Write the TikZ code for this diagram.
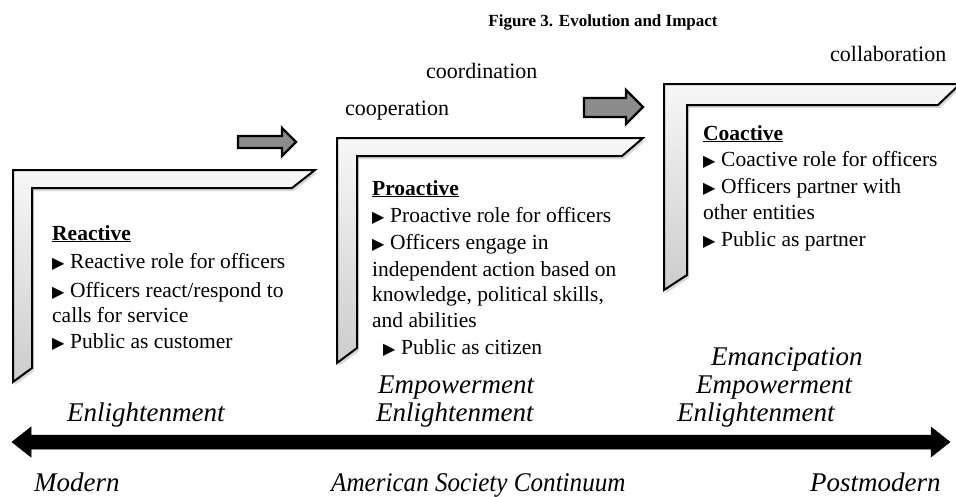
\documentclass[tikz,border=0pt]{standalone}
\usepackage{fontspec}
\usepackage{graphicx}
\setmainfont{Liberation Serif}
\newfontfamily\symf{DejaVu Sans}
\usetikzlibrary{shadows}
\definecolor{arrowgray}{RGB}{140,140,140}
\newcommand\bul{\makebox[18pt][l]{\raisebox{0pt}{\symf\fontsize{16}{16}\selectfont ▶}}}
\tikzset{
  bracket/.style={draw=black, line width=2pt, line join=miter, top color=gray!6, bottom color=gray!40,
    drop shadow={opacity=0.3, shadow xshift=2pt, shadow yshift=-3pt}},
  bigarrow/.style={draw=black, line width=2.3pt, line join=miter, fill=arrowgray},
  axisarrow/.style={fill=black, draw=black, line width=0.5pt},
  body/.style={anchor=base west, inner sep=0pt, font=\fontsize{21.5}{25}\selectfont},
  ital/.style={anchor=base west, inner sep=0pt, font=\fontsize{27}{30}\selectfont\itshape},
  upper/.style={anchor=base west, inner sep=0pt, font=\fontsize{22}{25}\selectfont},
  titlestyle/.style={anchor=base, inner sep=0pt, font=\fontsize{17}{20}\selectfont\bfseries},
}
\begin{document}
\begin{tikzpicture}[x=1pt, y=-1pt]
\path[use as bounding box, fill=white] (0,0) rectangle (956,496);

% title
\node[titlestyle] (title) at (603,26) {Figure 3. Evolution and Impact};

% brackets
\path[bracket] (13,170) -- (315,170) -- (292,188) -- (32,188) -- (32,368) -- (13,382) -- cycle;
\path[bracket] (337,138) -- (643,138) -- (622,156) -- (357,156) -- (357,348) -- (337,363) -- cycle;
\path[bracket] (664,84) -- (960,84) -- (938,105) -- (687,105) -- (687,275) -- (664,290) -- cycle;

% block arrows
\path[bigarrow] (238,136) -- (282,136) -- (282,128) -- (296,142) -- (282,156) -- (282,148) -- (238,148) -- cycle;
\path[bigarrow] (584,98) -- (626,98) -- (626,90) -- (643,107) -- (626,124) -- (626,117) -- (584,117) -- cycle;

% upper labels
\node[upper] (coop) at (345,115) {cooperation};
\node[upper] (coord) at (426,78) {coordination};
\node[upper] (collab) at (830,61) {collaboration};

% reactive block
\node[body] (r0) at (52,240) {\textbf{\underline{Reactive}}};
\node[body] (r1) at (52,268) {\bul Reactive role for officers};
\node[body] (r2) at (52,297) {\bul Officers react/respond to};
\node[body] (r3) at (52,322) {calls for service};
\node[body] (r4) at (52,348) {\bul Public as customer};

% proactive block
\node[body] (p0) at (372,195) {\textbf{\underline{Proactive}}};
\node[body] (p1) at (372,222) {\bul Proactive role for officers};
\node[body] (p2) at (372,249) {\bul Officers engage in};
\node[body] (p3) at (372,276) {independent action based on};
\node[body] (p4) at (372,301) {knowledge, political skills,};
\node[body] (p5) at (372,327) {and abilities};
\node[body] (p6) at (383,354) {\bul Public as citizen};

% coactive block
\node[body] (c0) at (703,140) {\textbf{\underline{Coactive}}};
\node[body] (c1) at (703,166) {\bul Coactive role for officers};
\node[body] (c2) at (703,193) {\bul Officers partner with};
\node[body] (c3) at (703,219) {other entities};
\node[body] (c4) at (703,246) {\bul Public as partner};

% italic stages
\node[ital] (e1) at (67,421) {Enlightenment};
\node[ital] (m2) at (378,393) {Empowerment};
\node[ital] (e2) at (376,421) {Enlightenment};
\node[ital] (x3) at (711,365) {Emancipation};
\node[ital] (m3) at (696,393) {Empowerment};
\node[ital] (e3) at (677,421) {Enlightenment};

% continuum axis
\path[axisarrow] (12,442) -- (31,427) -- (31,435) -- (931,435) -- (931,427) -- (950,442) -- (931,457) -- (931,449) -- (31,449) -- (31,457) -- cycle;

\node[ital] (modern) at (34,491) {Modern};
\node[ital] (asc) at (331,491) {\scalebox{0.93}[1]{American Society Continuum}};
\node[ital] (postm) at (810,491) {Postmodern};
\end{tikzpicture}
\end{document}
